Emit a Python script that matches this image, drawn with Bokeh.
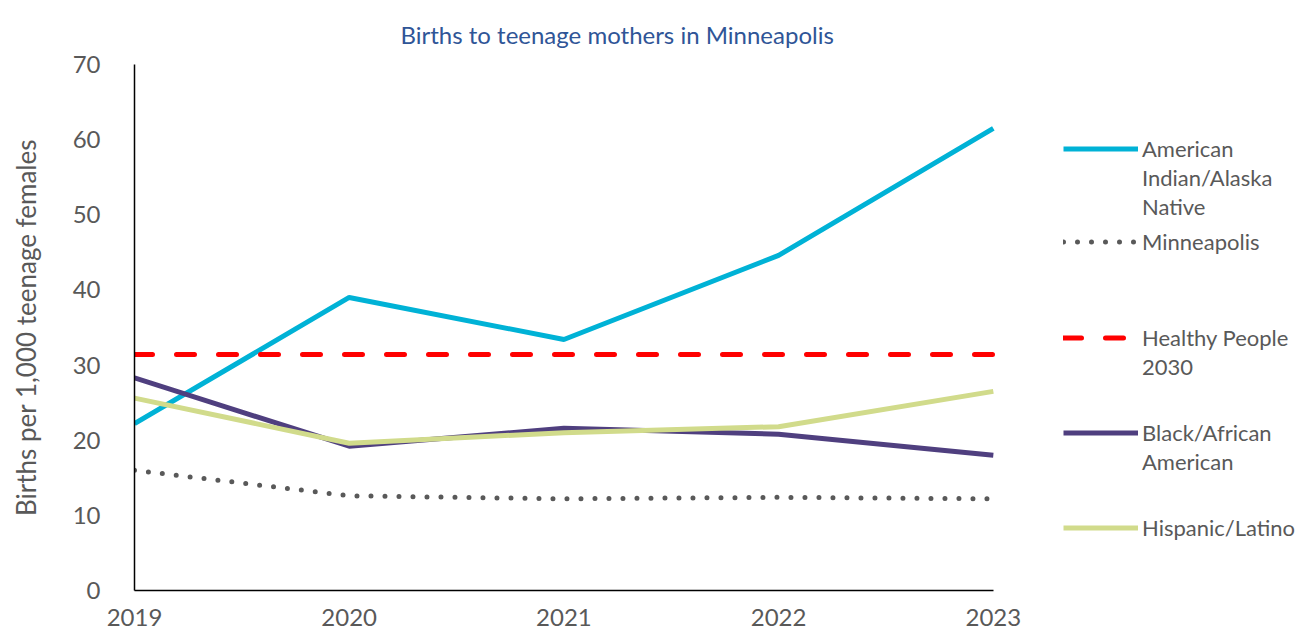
from bokeh.plotting import figure
from bokeh.models import Legend, LegendItem, FixedTicker, Range1d
from bokeh.embed import file_html
from bokeh.resources import INLINE

years = [2019, 2020, 2021, 2022, 2023]
aian = [22.2, 39.0, 33.4, 44.6, 61.5]
minneapolis = [16.0, 12.6, 12.2, 12.4, 12.2]
healthy_people = [31.4, 31.4, 31.4, 31.4, 31.4]
black = [28.3, 19.2, 21.6, 20.8, 18.0]
hispanic = [25.6, 19.6, 21.0, 21.8, 26.5]

series_labels = [
    ["American", "Indian/Alaska", "Native"],
    ["Minneapolis"],
    ["Healthy People", "2030"],
    ["Black/African", "American"],
    ["Hispanic/Latino"],
]
title_text = "Births to teenage mothers in Minneapolis"

FONT = "Lato"
TEXT_GRAY = "#595959"

# frame spans the legend area too; x axis line is bounded to the data years
p = figure(width=1302, height=633, output_backend="svg", toolbar_location=None,
           x_range=Range1d(2019, 2024.44), y_range=Range1d(0, 70),
           min_border_left=134, min_border_right=0, min_border_top=64, min_border_bottom=43)
p.outline_line_color = None
p.grid.grid_line_color = None

p.title.text = title_text
p.title.text_font = FONT
p.title.text_font_size = "24px"
p.title.text_font_style = "normal"
p.title.text_color = "#2F5597"
p.title.align = "left"
p.title.offset = 266
p.title.standoff = 32

for ax in (p.xaxis[0], p.yaxis[0]):
    ax.axis_line_color = "black"
    ax.axis_line_width = 1.5
    ax.major_tick_line_color = None
    ax.minor_tick_line_color = None
    ax.major_label_text_font = FONT
    ax.major_label_text_font_size = "24px"
    ax.major_label_text_color = TEXT_GRAY

p.xaxis.bounds = (2019, 2023)
p.xaxis.ticker = FixedTicker(ticks=years)
p.xaxis.major_label_standoff = 12
p.yaxis.ticker = FixedTicker(ticks=[0, 10, 20, 30, 40, 50, 60, 70])
p.yaxis.major_label_standoff = 28
p.yaxis.axis_label = "Births per 1,000 teenage females"
p.yaxis.axis_label_text_font = FONT
p.yaxis.axis_label_text_font_size = "26px"
p.yaxis.axis_label_text_font_style = "normal"
p.yaxis.axis_label_text_color = TEXT_GRAY
p.yaxis.axis_label_standoff = 28

r1 = p.line(years, aian, line_color="#00B2D6", line_width=5)
r2 = p.line(years, minneapolis, line_color="#595959", line_width=5, line_dash="0 14", line_cap="round")
r3 = p.line(years, healthy_people, line_color="#FF0000", line_width=5, line_dash="18 24", line_cap="round")
r4 = p.line(years, black, line_color="#4F3F7F", line_width=5)
r5 = p.line(years, hispanic, line_color="#D1DB8B", line_width=5)

# one small legend per series so that the sample line sits on the first text line
renderers = [r1, r2, r3, r4, r5]
LINE_H = 29
first_line_centers = [148, 241, 337, 432, 527]   # page px of each entry's first line
frame_bottom, frame_left = 590, 134
for r, lines, cy in zip(renderers, series_labels, first_line_centers):
    its = [LegendItem(label=lines[0], renderers=[r])]
    its += [LegendItem(label=t, renderers=[]) for t in lines[1:]]
    bottom = cy - LINE_H / 2 + LINE_H * len(lines)
    lg = Legend(items=its, location=(1063 - frame_left, frame_bottom - bottom),
                padding=0, margin=0, spacing=0, label_height=LINE_H, glyph_height=LINE_H,
                glyph_width=75, label_standoff=4, border_line_color=None,
                background_fill_alpha=0, label_text_font=FONT, label_text_font_size="22px",
                label_text_color=TEXT_GRAY)
    p.add_layout(lg, "center")

open("out.html", "w").write(file_html(p, INLINE))
